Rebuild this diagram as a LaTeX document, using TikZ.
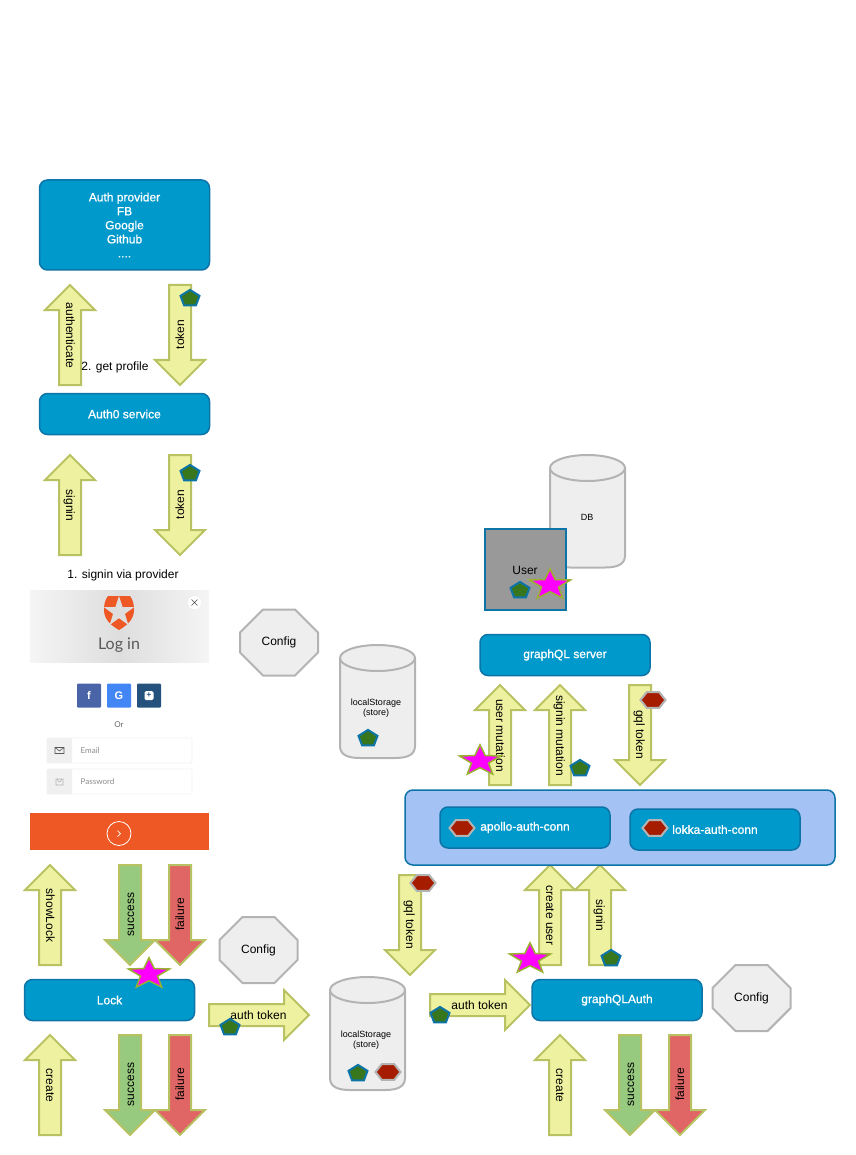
\documentclass[tikz,border=0pt]{standalone}
\usepackage{fontspec}
\setmainfont{Liberation Sans}
\newfontfamily\widgetfont{Lato}
\newfontfamily\boxfont[FakeBold=1]{Liberation Sans}
\usetikzlibrary{positioning, shapes, arrows, calc}

\definecolor{boxblue}{HTML}{0099CC}
\definecolor{boxline}{HTML}{0D74A8}
\definecolor{panelblue}{HTML}{A4C2F4}
\definecolor{arrowfill}{HTML}{EEF19F}
\definecolor{arrowline}{HTML}{B9C263}
\definecolor{okgreen}{HTML}{97C97F}
\definecolor{badred}{HTML}{E06666}
\definecolor{storegrey}{HTML}{EEEEEE}
\definecolor{storeline}{HTML}{B3B3B3}
\definecolor{lockorange}{HTML}{EE5825}
\definecolor{markgreen}{HTML}{38761D}
\definecolor{markred}{HTML}{A61C00}
\definecolor{markpink}{HTML}{FF00FF}
\definecolor{starline}{HTML}{9BB030}
\definecolor{fbblue}{HTML}{4A64A8}
\definecolor{gblue}{HTML}{4285F4}
\definecolor{thirdblue}{HTML}{25527D}

% cylinder: left x, top y, height, name
\newcommand{\storecylinder}[4]{
  \begin{scope}[shift={(#1,#2)}]
    \draw[cylinderline] (0,13) -- (0,#3-12) .. controls (0,#3-3) and (8,#3) .. (20,#3)
      -- (55,#3) .. controls (67,#3) and (75,#3-3) .. (75,#3-12) -- (75,13);
    \draw[cylinderline] (37.5,13) ellipse (37.5 and 13);
    \coordinate (#4) at (37.5,#3/2);
  \end{scope}
}

\begin{document}
\begin{tikzpicture}[
  x=1pt, y=-1pt,
  block/.style={
    rectangle, rounded corners=8pt, line width=1.5pt, align=center,
    draw=boxline, fill=boxblue, text=white,
    font=\fontsize{12}{14}\selectfont\boxfont,
    minimum width=170pt, minimum height=41pt, inner sep=0pt
  },
  flow/.style={
    single arrow, single arrow head extend=14pt, single arrow tip angle=90,
    minimum width=50pt, minimum height=100pt, inner sep=0pt, outer sep=0pt,
    text height=14pt, text depth=6pt, anchor=tail,
    line width=2pt, draw=arrowline, fill=arrowfill,
    font=\fontsize{12}{14}\selectfont
  },
  rightflow/.style={flow,
    execute at begin node={\hbox to 60pt\bgroup\hskip10pt\hss},
    execute at end node={\hss\egroup}
  },
  backflow/.style={flow, shape border rotate=180,
    execute at begin node={\hbox to 60pt\bgroup\hss},
    execute at end node={\hss\hskip10pt\egroup}
  },
  upflow/.style={backflow, rotate=-90},
  downflow/.style={backflow, rotate=90},
  downflowb/.style={rightflow, rotate=-90},
  success/.style={fill=okgreen},
  failure/.style={fill=badred},
  config/.style={
    chamfered rectangle, chamfered rectangle xsep=22pt, chamfered rectangle ysep=20pt,
    minimum width=78pt, minimum height=66pt, inner sep=0pt,
    line width=2pt, draw=storeline, fill=storegrey,
    font=\fontsize{12}{14}\selectfont
  },
  cylinderline/.style={line width=2pt, draw=storeline, fill=storegrey},
  pentagonmark/.style={
    regular polygon, regular polygon sides=5, minimum size=20pt, inner sep=0pt,
    yscale=.86, transform shape,
    line width=2pt, draw=boxline, fill=markgreen
  },
  hexagonmark/.style={
    regular polygon, regular polygon sides=6, minimum size=25pt, inner sep=0pt,
    yscale=.72, transform shape,
    line width=2pt, draw=storeline, fill=markred
  },
  starmark/.style={
    star, star points=5, star point ratio=2.4, minimum size=36pt, inner sep=0pt,
    xscale=1.2, yscale=.9, transform shape,
    line width=1.5pt, draw=starline, fill=markpink
  },
  label/.style={font=\fontsize{12}{14}\selectfont, inner sep=0pt},
  small/.style={font=\fontsize{9}{10}\selectfont, inner sep=0pt, align=center},
  social/.style={
    rectangle, rounded corners=1pt, minimum size=24pt, inner sep=0pt, text=white,
    font=\fontsize{11}{11}\selectfont\bfseries
  },
  field/.style={
    rectangle, rounded corners=1pt, draw=black!5, fill=white, line width=.7pt,
    minimum width=145pt, minimum height=25pt, inner sep=0pt
  },
  hint/.style={font=\widgetfont\fontsize{8}{8}\selectfont, text=black!45, inner sep=0pt, anchor=west}
]
\useasboundingbox (0,0) rectangle (855,1155);

% auth provider column
\node [block, minimum height=90pt] (provider) at (124.5,225) {Auth provider\\ FB\\ Google\\ Github\\ ....};
\node [upflow] (authenticate) at (70,385) {authenticate};
\node [downflow] (token1) at (180,285) {token};
\node [label] (getprofile) at (115,367) {2. get profile};
\node [block] (auth0) at (124.5,414) {Auth0 service};
\node [upflow] (signin1) at (70,555) {signin};
\node [downflow] (token2) at (180,455) {token};
\node [label] (viaprovider) at (123,575) {1. signin via provider};

% login widget
\node [rectangle, minimum width=179pt, minimum height=72pt, inner sep=0pt,
  left color=black!4, right color=black!4, middle color=black!13] (loginhead) at (119.5,626) {};
\fill [lockorange] (108,596) -- (130,596) .. controls (133,600) and (134,604) .. (134,610)
  .. controls (134,620) and (126,626) .. (119,630) .. controls (112,626) and (104,620) .. (104,610)
  .. controls (104,604) and (105,600) .. (108,596) -- cycle;
\node [star, star points=5, star point ratio=2.6, minimum size=32pt, inner sep=0pt, fill=black!13] (logostar) at (119,612) {};
\node [font=\widgetfont\fontsize{16}{16}\selectfont, text=black!65, inner sep=0pt] (login) at (119,645.5) {Log in};
\node [circle, fill=white, minimum size=13pt, inner sep=0pt] (closebtn) at (194.5,602.5) {};
\draw [black!70, line width=.5pt] (191.5,599.5) -- (197.5,605.5) (197.5,599.5) -- (191.5,605.5);
\node [social, fill=fbblue] (facebook) at (89,695.5) {f};
\node [social, fill=gblue] (google) at (119,695.5) {G};
\node [social, fill=thirdblue] (third) at (149,695.5) {};
\node [rectangle, rounded corners=1.5pt, fill=white, minimum size=9pt, inner sep=0pt, text=thirdblue,
  font=\fontsize{8}{8}\selectfont\bfseries] (thirdicon) at (149,695.5) {+};
\node [small, text=black!60, font=\widgetfont\fontsize{8}{8}\selectfont] (ortext) at (119,725) {Or};
\node [field] (email) at (119.5,750.5) {};
\node [field] (password) at (119.5,781.5) {};
\fill [black!6] (47,738) rectangle (72,763) (47,769) rectangle (72,794);
\draw [black!65, line width=.6pt] (55,747.5) rectangle (64,753.5) (55,747.5) -- (59.5,751) -- (64,747.5);
\draw [black!30, line width=.6pt] (56,779) rectangle (63,785) (57.5,779) arc (180:0:2 and 3);
\node [hint] (emailtext) at (80.5,750.5) {Email};
\node [hint] (passwordtext) at (80.5,781.5) {Password};
\node [rectangle, fill=lockorange, minimum width=179pt, minimum height=37pt, inner sep=0pt] (submit) at (119.5,831.5) {};
\node [circle, draw=white, line width=.8pt, minimum size=24pt, inner sep=0pt] (submitcircle) at (119,833.5) {};
\draw [white, line width=.7pt] (117.5,830.5) -- (120.5,833.5) -- (117.5,836.5);

\node [config] (config1) at (279,642.5) {Config};
\storecylinder{340}{645}{113}{store1}
\node [small] (store1text) at (376,708) {localStorage\\ (store)};

% lock column
\node [upflow] (showlock) at (50,965) {showLock};
\node [downflow, success] (success1) at (130,865) {success};
\node [downflow, failure] (failure1) at (180,865) {failure};
\node [block] (lock) at (109.5,1000) {Lock};
\node [config] (config2) at (258.5,950) {Config};
\node [upflow] (create1) at (50,1135) {create};
\node [downflow, success] (success2) at (130,1035) {success};
\node [downflow, failure] (failure2) at (180,1035) {failure};
\node [rightflow] (authtoken1) at (209,1015) {auth token};

% middle store
\storecylinder{330}{977}{113}{store2}
\node [small] (store2text) at (366,1040) {localStorage\\ (store)};
\node [downflowb] (gqltoken1) at (410,875) {gql token};
\node [rightflow] (authtoken2) at (430,1005) {auth token};

% graphql side
\node [upflow] (createuser) at (550,965) {create user};
\node [upflow] (signin2) at (600,965) {signin};
\node [block] (graphqlauth) at (617,1000) {graphQLAuth};
\node [config] (config3) at (751.5,998) {Config};
\node [upflow] (create2) at (560,1135) {create};
\node [downflow, success] (success3) at (630,1035) {success};
\node [downflow, failure] (failure3) at (680,1035) {failure};

\node [block, fill=panelblue, minimum width=430pt, minimum height=75pt] (connpanel) at (620,827.5) {};
\node [block] (apollo) at (525,827.5) {apollo-auth-conn};
\node [block] (lokka) at (715,829.5) {lokka-auth-conn};
\node [upflow] (usermutation) at (500,785) {user mutation};
\node [upflow] (signinmutation) at (560,785) {signin mutation};
\node [downflowb] (gqltoken2) at (640,685) {gql token};
\node [block] (server) at (565,655) {graphQL server};

% db and user
\storecylinder{550}{455}{112.5}{db}
\node [small] (dbtext) at (587,517) {DB};
\node [rectangle, minimum size=81pt, inner sep=0pt, line width=2pt, draw=boxline, fill=black!40] (userbox) at (525,569.5) {};
\node [label] (usertext) at (525,570) {User};

% marks
\node [pentagonmark] (mark1) at (190,298.5) {};
\node [pentagonmark] (mark2) at (190,473.5) {};
\node [pentagonmark] (mark3) at (230,1027.5) {};
\node [pentagonmark] (mark4) at (440,1015.5) {};
\node [pentagonmark] (mark5) at (358,1073.5) {};
\node [pentagonmark] (mark6) at (368,738.5) {};
\node [pentagonmark] (mark7) at (520,590.5) {};
\node [pentagonmark] (mark8) at (580,768.5) {};
\node [pentagonmark] (mark9) at (611,958.5) {};
\node [hexagonmark] (hex1) at (423,883) {};
\node [hexagonmark] (hex2) at (388,1072) {};
\node [hexagonmark] (hex3) at (653,700) {};
\node [hexagonmark] (hex4) at (462,828) {};
\node [hexagonmark] (hex5) at (655,828) {};
\node [starmark] (star1) at (149,974) {};
\node [starmark] (star2) at (530,959) {};
\node [starmark] (star3) at (480,761) {};
\node [starmark] (star4) at (550,585) {};
\end{tikzpicture}
\end{document}
